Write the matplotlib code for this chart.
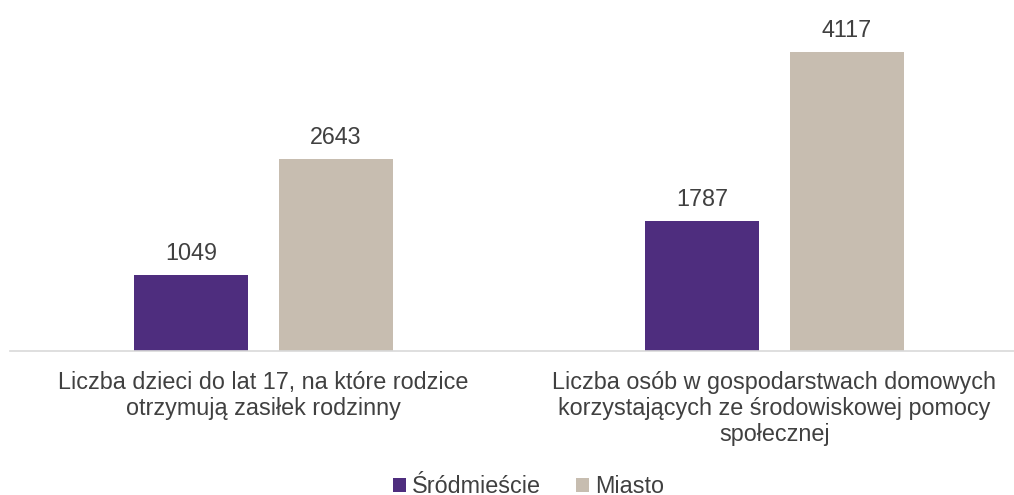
import numpy as np
import matplotlib
matplotlib.use("Agg")
import matplotlib.pyplot as plt

plt.rcParams['font.family'] = ['Liberation Sans', 'DejaVu Sans']

categories = ["Liczba dzieci do lat 17, na które rodzice\notrzymują zasiłek rodzinny",
              "Liczba osób w gospodarstwach domowych\nkorzystających ze środowiskowej pomocy\nspołecznej"]
series_names = ["Śródmieście", "Miasto"]
srodmiescie = [1049, 1787]
miasto = [2643, 4117]

colors = ["#4E2D7E", "#C7BDB0"]
text_color = "#404040"
fs = 16.8

fig = plt.figure(figsize=(10.14, 4.95), dpi=100)
ax = fig.add_axes([10 / 1014, 1 - 351 / 495, 1004 / 1014, 351 / 495])

x = np.arange(len(categories))
w = 0.223
off = 0.142
b1 = ax.bar(x - off, srodmiescie, w, color=colors[0], label=series_names[0])
b2 = ax.bar(x + off, miasto, w, color=colors[1], label=series_names[1])

for bars in (b1, b2):
    for r in bars:
        ax.annotate(f"{int(r.get_height())}", (r.get_x() + r.get_width() / 2, r.get_height()),
                    xytext=(0, 11), textcoords="offset points", ha="center", va="baseline",
                    fontsize=fs, color=text_color)

xl = -0.5 + 2 / 511
ax.set_xlim(xl, xl + 1004 / 511)
ax.set_ylim(0, 351 / 0.0726)

for i, lab in enumerate(categories):
    ax.text(x[i], -0.057, lab, transform=ax.get_xaxis_transform(),
            ha="center", va="top", fontsize=fs, color=text_color, linespacing=1.18)

for s in ["top", "right", "left"]:
    ax.spines[s].set_visible(False)
ax.spines["bottom"].set_color("#D9D9D9")
ax.spines["bottom"].set_linewidth(1.2)
ax.set_xticks([])
ax.set_yticks([])

fig.legend(handles=[b1, b2], loc="upper center", bbox_to_anchor=(0.521, 0.064), ncol=2,
           frameon=False, fontsize=fs, handlelength=0.56, handleheight=0.56,
           handletextpad=0.26, columnspacing=1.5, borderpad=0, labelcolor=text_color)

fig.savefig("out.png", dpi=100)
